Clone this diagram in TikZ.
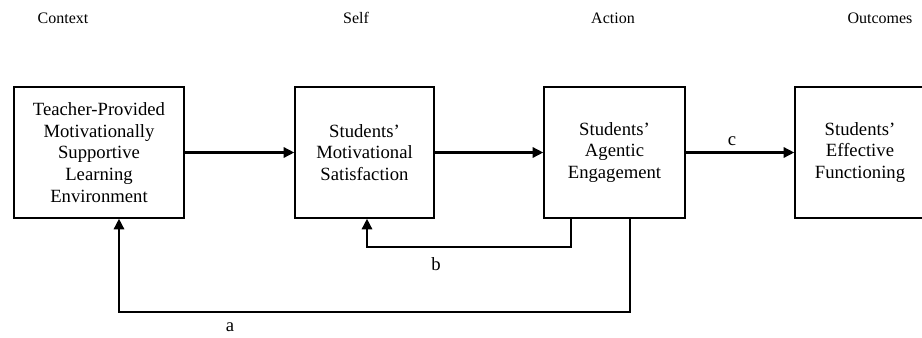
\documentclass[tikz,border=0pt]{standalone}
\usepackage{fontspec}
\setmainfont{Liberation Serif}
\usetikzlibrary{arrows.meta}
\begin{document}
\begin{tikzpicture}[x=0.75pt,y=-0.75pt,
  box/.style={draw, line width=0.9pt, align=center, inner sep=0pt,
    font=\fontsize{14}{16.3}\selectfont, minimum height=98.25pt},
  arr/.style={line width=2.2pt, -{Triangle[length=8pt,width=7.5pt]}},
  hdr/.style={font=\fontsize{12}{14}\selectfont},
  lbl/.style={font=\fontsize{14}{16}\selectfont}]
\useasboundingbox (0,0) rectangle (922,337);
% headers
\node[hdr] (h1) at (63,18) {Context};
\node[hdr] (h2) at (356,18) {Self};
\node[hdr] (h3) at (613,18) {Action};
\node[hdr] (h4) at (880,18) {Outcomes};
% boxes
\node[box, minimum width=127.5pt] (b1) at (99,152.5)
  {Teacher-Provided\\Motivationally\\Supportive\\Learning\\Environment};
\node[box, minimum width=104.25pt] (b2) at (364.5,152.5)
  {Students'\\Motivational\\Satisfaction};
\node[box, minimum width=105.75pt] (b3) at (614.5,152.5)
  {Students'\\Agentic\\Engagement};
\node[box, minimum width=97.5pt] (b4) at (860,152.5)
  {Students'\\Effective\\Functioning};
% forward arrows
\draw[arr] (b1.east) -- (b2.west);
\draw[arr] (b2.east) -- (b3.west);
\draw[arr] (b3.east) -- (b4.west);
\node[lbl] (lc) at (732,141) {c};
% feedback b
\coordinate (br) at (571,247);
\coordinate (bl) at (367,247);
\draw[arr] (b3.south -| br) -- (br) -- (bl) -- (b2.south -| bl);
\node[lbl] (lb) at (436,264) {b};
% feedback a
\coordinate (ar) at (630,312);
\coordinate (al) at (119,312);
\draw[arr] (b3.south -| ar) -- (ar) -- (al) -- (b1.south -| al);
\node[lbl] (la) at (230,327) {a};
\end{tikzpicture}
\end{document}
